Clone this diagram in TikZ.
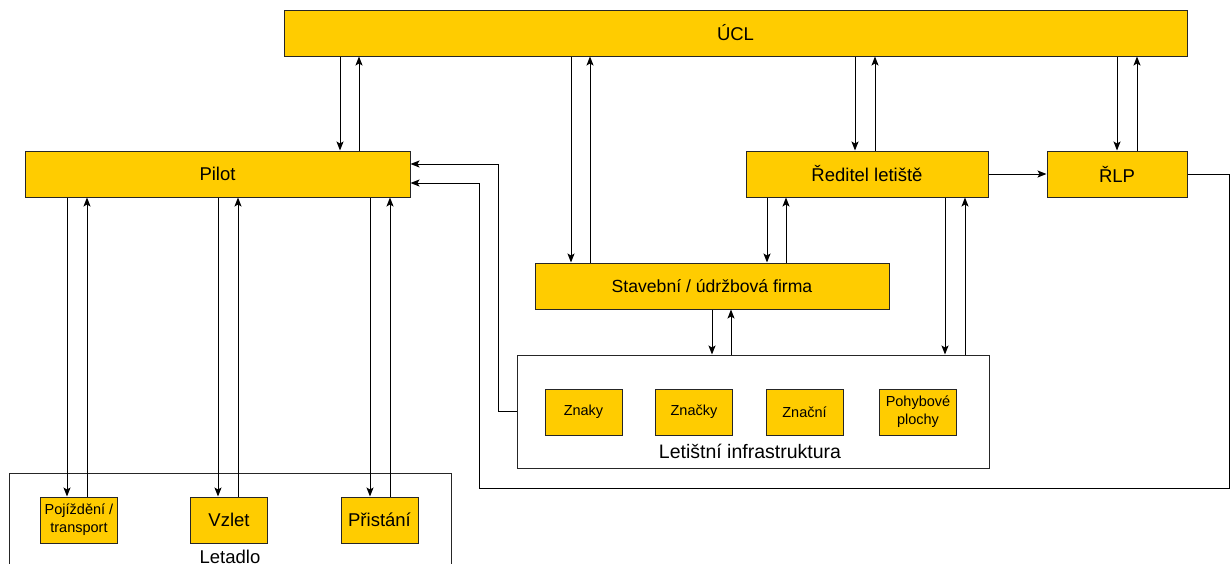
\documentclass[tikz,border=0pt]{standalone}
\usepackage{fontspec}
\setmainfont{Liberation Sans}
\usepackage{color}
\definecolor{boxyellow}{RGB}{255,204,0}
\definecolor{edge}{gray}{.15}
\usepackage{tikz}
\usetikzlibrary{arrows.meta}
\newcommand{\bigfont}{\fontsize{18.5}{22}\selectfont}
\newcommand{\smallfont}{\fontsize{14.5}{18}\selectfont}
\newcommand{\heightbox}{46pt}
\newcommand{\widthsmall}{77pt}
\tikzset{
    common/.style={draw=edge, line width=1pt, rectangle, inner sep=0pt, minimum height=\heightbox, font=\bigfont},
    unit/.style={common, fill=boxyellow},
    item/.style={unit, minimum width=\widthsmall, font=\smallfont, align=center},
    frame/.style={common, fill=white},
    caption/.style={anchor=base, font=\bigfont},
    flow/.style={-{Stealth[length=9pt, width=7pt, inset=2pt]}, line width=1pt},
}

\begin{document}
\begin{tikzpicture}[x=1pt, y=-1pt]
        \useasboundingbox (0,0) rectangle (1232,563);
        \clip (0,0) rectangle (1232,563);

        % containers
        \node[frame, minimum width=442pt, minimum height=120pt] (letadlo) at (230,533) {};
        \node[frame, minimum width=472pt, minimum height=113pt] (infra) at (753,411.5) {};
        \node[caption, font=\fontsize{19.5}{22}\selectfont] (infra-text) at (750,458) {Letištní infrastruktura};
        \node[caption] (letadlo-text) at (230,563) {Letadlo};

        \node[unit, minimum width=903pt] (ucl) at (735.5,33) {ÚCL};
        \node[unit, minimum width=385pt] (pilot) at (217.5,174) {Pilot};
        \node[unit, minimum width=242pt] (reditel) at (867,174) {Ředitel letiště};
        \node[unit, minimum width=140pt] (rlp) at (1117,174) {ŘLP};
        \node[unit, minimum width=354pt, font=\fontsize{17.6}{22}\selectfont] (firma) at (712,286) {Stavební / údržbová firma};

        \path
            (583.5,412) node[item] (znaky) {Znaky}
            to ++(0:110.5) node[item] (znacky) {Značky}
            to ++(0:110.5) node[item] (znacni) {Znační}
            to ++(0:113.5) node[item] (plochy) {Pohybové\\plochy};

        \path
            (79,520) node[item] (pojizdeni) {Pojíždění /\\transport}
            to ++(0:150) node[item, font=\bigfont] (vzlet) {Vzlet}
            to ++(0:150.5) node[item, font=\bigfont] (pristani) {Přistání};

        % down / up pairs
        \foreach \dn/\up/\src/\dst in {340/359/ucl/pilot, 571/590/ucl/firma, 855/875/ucl/reditel,
                1117/1137/ucl/rlp, 767/786/reditel/firma, 945/965/reditel/infra, 712/731/firma/infra,
                67/87/pilot/pojizdeni, 218/238/pilot/vzlet, 370/390/pilot/pristani} {
            \draw[flow] (\src.south -| \dn,0) -- (\dst.north -| \dn,0);
            \draw[flow] (\dst.north -| \up,0) -- (\src.south -| \up,0);
        }

        \draw[flow] (reditel) -- (rlp);

        \coordinate (loop-corner) at (1229,488);
        \coordinate (loop-up) at (479,183);
        \draw[flow] (rlp.east) -| (loop-corner) -| (loop-up) -- (pilot.east |- loop-up);

        \coordinate (infra-up) at (498,164);
        \draw[flow] (infra.west) -| (infra-up) -- (pilot.east |- infra-up);

\end{tikzpicture}
\end{document}
